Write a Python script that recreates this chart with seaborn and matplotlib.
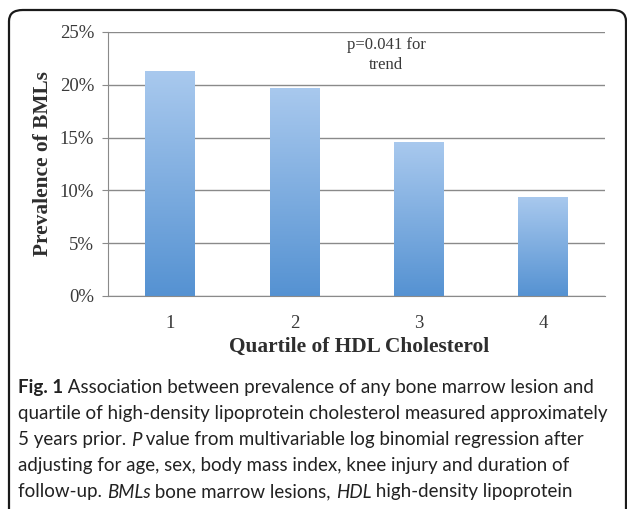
import numpy as np
import pandas as pd
import seaborn as sns
import matplotlib
matplotlib.use("Agg")
from matplotlib import pyplot as plt
from matplotlib.patches import FancyBboxPatch
from matplotlib.ticker import FuncFormatter, MultipleLocator
from matplotlib.colors import LinearSegmentedColormap

# Data
quartiles = ["1", "2", "3", "4"]
prevalence = [21.3, 19.7, 14.6, 9.4]

y_label = "Prevalence of BMLs"
x_label = "Quartile of HDL Cholesterol"
note = "p=0.041 for\ntrend"

caption_lines = [
    [("Fig. 1", "bold"), (" Association between prevalence of any bone marrow lesion and", "normal")],
    [("quartile of high-density lipoprotein cholesterol measured approximately", "normal")],
    [("5 years prior. ", "normal"), ("P", "italic"), (" value from multivariable log binomial regression after", "normal")],
    [("adjusting for age, sex, body mass index, knee injury and duration of", "normal")],
    [("follow-up. ", "normal"), ("BMLs", "italic"), (" bone marrow lesions, ", "normal"),
     ("HDL", "italic"), (" high-density lipoprotein", "normal")],
]

df = pd.DataFrame({
    "quartile": quartiles,
    "prevalence": prevalence
})

sns.set_style("white")
plt.rcParams["font.family"] = ["Liberation Serif", "DejaVu Serif"]

W, H = 627, 509
fig = plt.figure(figsize=(W / 100, H / 100), dpi=100)

##################################################
# Rounded border
##################################################
border = FancyBboxPatch(
    (9 / W, -0.2), (626 - 9) / W, (H - 10) / H + 0.2,
    boxstyle="round,pad=0,rounding_size=0.022",
    transform=fig.transFigure,
    facecolor="none",
    edgecolor="#1a1a1a",
    linewidth=1.6,
    clip_on=False
)
fig.patches.append(border)

##################################################
# Bar chart
##################################################
ax = fig.add_axes([108 / W, (H - 296) / H, 497 / W, 264 / H])

sns.barplot(
    data=df,
    x="quartile",
    y="prevalence",
    width=0.4,
    color="#7aaae0",
    ax=ax
)

# vertical gradient on each bar (light top, darker bottom)
cmap = LinearSegmentedColormap.from_list("bar", ["#a9c9ee", "#5592d2"])
grad = np.linspace(0, 1, 256).reshape(-1, 1)
for patch in ax.patches:
    x0, y0 = patch.get_x(), patch.get_y()
    w, h = patch.get_width(), patch.get_height()
    im = ax.imshow(
        grad,
        cmap=cmap,
        aspect="auto",
        extent=[x0, x0 + w, y0, y0 + h],
        origin="upper",
        zorder=patch.get_zorder() + 0.1
    )
    im.set_clip_path(patch)
    patch.set_edgecolor("none")

ax.set_xlim(-0.5, 3.5)
ax.set_ylim(0, 25)
ax.yaxis.set_major_locator(MultipleLocator(5))
ax.yaxis.set_major_formatter(FuncFormatter(lambda v, p: f"{v:.0f}%"))
ax.grid(axis="y", color="#8a8a8a", linewidth=1.0)
ax.set_axisbelow(True)

for side in ["top", "right"]:
    ax.spines[side].set_visible(False)
ax.spines["left"].set_color("#8a8a8a")
ax.spines["bottom"].set_color("#8a8a8a")

ax.set_xticks([-0.5, 0.5, 1.5, 2.5, 3.5], minor=True)
ax.tick_params(axis="x", which="minor", length=5, color="#8a8a8a", direction="out")
ax.tick_params(axis="x", which="major", length=0, pad=14,
               labelsize=13.5, labelcolor="#3a3a3a")
ax.tick_params(axis="y", length=4, color="#8a8a8a", direction="out", left=True,
               pad=6, labelsize=13.5, labelcolor="#3a3a3a")

ax.set_xlabel(x_label, fontsize=15.4, fontweight="bold", color="#2e2e2e")
ax.set_ylabel(y_label, fontsize=15.4, fontweight="bold", color="#2e2e2e")
ax.xaxis.set_label_coords(0.505, -0.193)
ax.xaxis.label.set_va("center")
ax.yaxis.set_label_coords(-0.131, 0.5)
ax.yaxis.label.set_va("center")

ax.text(1.74, 22.8, note, ha="center", va="center", fontsize=12,
        color="#3a3a3a", linespacing=1.3)

##################################################
# Caption
##################################################
fig.canvas.draw()
renderer = fig.canvas.get_renderer()
cap_font = ["Lato", "DejaVu Sans"]
cap_size = 13.5
y_px = 388
for line in caption_lines:
    x_px = 18
    for txt, style in line:
        t = fig.text(
            x_px / W, 1 - y_px / H, txt,
            family=cap_font,
            fontsize=cap_size,
            fontweight="bold" if style == "bold" else "normal",
            fontstyle="italic" if style == "italic" else "normal",
            color="#222222",
            va="center", ha="left"
        )
        bb = t.get_window_extent(renderer)
        x_px += bb.width
    y_px += 26

plt.savefig("out.png", dpi=100)
plt.close()
